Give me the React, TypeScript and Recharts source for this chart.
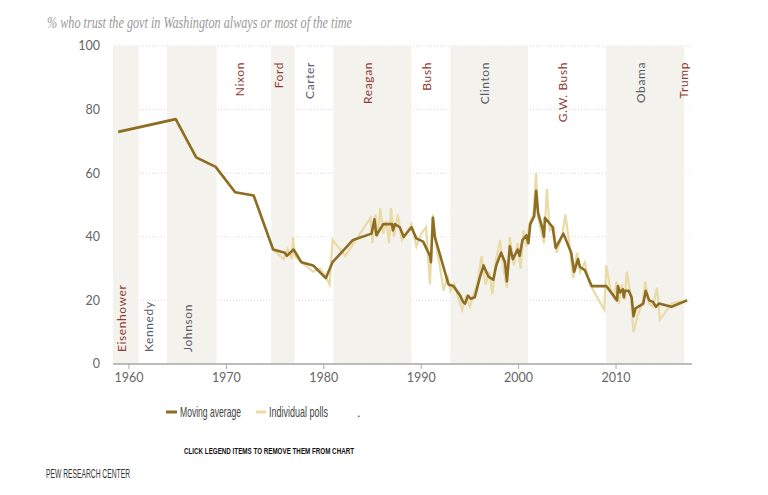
import React from 'react';
import {
  ComposedChart,
  Line,
  XAxis,
  YAxis,
  CartesianGrid,
  ReferenceArea,
} from 'recharts';

// Moving average of trust in government
const avgYears = [
  1958.9, 1964.8, 1966.9, 1968.9, 1970.9, 1972.8, 1974.8, 1976.0, 1976.2, 1976.9,
  1977.7, 1978.9, 1980.2, 1980.9, 1983.0, 1984.9, 1985.2, 1985.4, 1986.1, 1987.0,
  1987.1, 1987.3, 1987.8, 1988.2, 1989.0, 1989.5, 1990.2, 1990.9, 1991.0, 1991.2,
  1991.4, 1992.8, 1993.3, 1994.0, 1994.3, 1994.5, 1994.8, 1995.1, 1995.5, 1996.0,
  1996.4, 1996.9, 1997.4, 1997.7, 1998.2, 1998.6, 1998.8, 1999.1, 1999.4, 1999.9,
  2000.1, 2000.4, 2000.8, 2001.0, 2001.2, 2001.6, 2001.8, 2002.0, 2002.5, 2002.6,
  2002.7, 2003.5, 2003.8, 2004.6, 2005.4, 2005.7, 2006.1, 2006.3, 2006.8, 2007.5,
  2009.0, 2010.1, 2010.2, 2010.4, 2010.7, 2010.8, 2010.9, 2011.3, 2011.6, 2011.8,
  2012.0, 2012.8, 2013.05, 2013.4, 2013.8, 2014.1, 2014.4, 2015.7, 2017.3,
];
const avgValues = [
  73, 77, 65, 62, 54, 53, 36, 35, 34, 36,
  32, 31, 27, 32, 39, 41, 45.5, 40.5, 44, 44,
  42, 44, 43, 40, 43, 39.5, 38.5, 34, 32, 46,
  40, 25, 24.5, 21.5, 19.5, 19, 21.5, 20.5, 21, 27,
  31, 27.5, 26.5, 31, 35, 32, 26, 37, 33, 36,
  34, 39, 40.5, 38, 44, 46.5, 54.5, 47.5, 42, 40,
  46, 43, 36.5, 41, 35, 29, 33, 30.5, 29.5, 24.5,
  24.5, 20, 24.5, 22.5, 23.5, 21, 23, 23, 21, 15,
  17.5, 19, 23, 20, 19.5, 18, 19, 18, 20,
];

// Individual polls
const pollYears = [
  1958.9, 1964.8, 1966.9, 1968.9, 1970.9, 1972.8, 1974.8, 1975.9, 1976.3, 1976.7,
  1976.85, 1977.0, 1977.7, 1978.9, 1979.6, 1980.1, 1980.6, 1980.9, 1982.2, 1983.5,
  1984.8, 1985.0, 1985.3, 1985.5, 1985.8, 1986.1, 1986.4, 1986.7, 1986.9, 1987.2,
  1987.6, 1988.0, 1988.5, 1989.0, 1989.5, 1990.0, 1990.5, 1990.9, 1991.2, 1991.5,
  1991.9, 1992.3, 1992.7, 1993.0, 1993.4, 1993.8, 1994.2, 1994.6, 1995.0, 1995.4,
  1995.8, 1996.2, 1996.6, 1997.0, 1997.3, 1997.7, 1998.1, 1998.5, 1998.8, 1999.1,
  1999.5, 1999.9, 2000.2, 2000.5, 2000.8, 2001.1, 2001.5, 2001.8, 2002.0, 2002.3,
  2002.6, 2002.9, 2003.2, 2003.6, 2003.9, 2004.5, 2004.8, 2005.2, 2005.6, 2006.0,
  2006.3, 2006.8, 2007.2, 2007.7, 2008.8, 2009.0, 2009.4, 2009.8, 2010.05, 2010.3,
  2010.6, 2010.9, 2011.1, 2011.5, 2011.8, 2012.2, 2012.7, 2013.0, 2013.4, 2013.8,
  2014.2, 2014.5, 2015.0, 2015.7, 2017.3,
];
const pollValues = [
  73, 77, 65, 62, 54, 53, 36, 33, 36, 33,
  40, 34, 32, 29, 30, 28, 25, 39, 34, 40,
  46, 38, 47, 40, 49, 41, 45, 38, 49, 40,
  47, 39, 41, 44, 37, 41, 43, 25, 47, 38,
  31, 23, 28, 23, 25, 21, 17, 21, 18, 22,
  26, 34, 25, 29, 22, 33, 39, 29, 24, 40,
  31, 38, 30, 42, 37, 44, 47, 60, 46, 42,
  38, 55, 42, 43, 35, 41, 47, 38, 27, 35,
  29, 32, 26, 23, 17, 31, 24, 21, 26, 19,
  25, 20, 29, 22, 10, 15, 19, 26, 19, 18,
  24, 14, 16, 19, 20,
];

// Presidencies: shaded bands alternate
const presNames = [
  'Eisenhower', 'Kennedy', 'Johnson', 'Nixon', 'Ford', 'Carter',
  'Reagan', 'Bush', 'Clinton', 'G.W. Bush', 'Obama', 'Trump',
];
const presStart = [1953, 1961, 1963.9, 1969, 1974.6, 1977, 1981, 1989, 1993, 2001, 2009, 2017];
const presEnd = [1961, 1963.9, 1969, 1974.6, 1977, 1981, 1989, 1993, 2001, 2009, 2017, 2021];
const presParty = ['R', 'D', 'D', 'R', 'R', 'D', 'R', 'R', 'D', 'R', 'D', 'R'];

const yTicks = [0, 20, 40, 60, 80, 100];
const xTicks = [1960, 1970, 1980, 1990, 2000, 2010];

const X_MIN = 1958.36;
const X_MAX = 2017.8;
const LOW_LABELS_BEFORE = 1969;

const AVG_COLOR = '#8d6d24';
const POLL_COLOR = '#e9daa6';
const BAND_COLOR = '#f4f2ed';
const REP_COLOR = '#8e3b33';
const DEM_COLOR = '#56606a';
const FONT = 'Lato, "Open Sans", sans-serif';
const NARROW = '"Liberation Sans", sans-serif';
const SQUEEZE = 0.63;

const avgData = avgYears.map((year, i) => ({ year, value: avgValues[i] }));
const pollData = pollYears.map((year, i) => ({ year, value: pollValues[i] }));

function PresidentLabel({ viewBox, name, color, low }: any) {
  if (!viewBox) return null;
  const cx = viewBox.x + viewBox.width / 2;
  const y = low ? 352 : 62;
  return (
    <text
      transform={`translate(${cx}, ${y}) rotate(-90)`}
      textAnchor={low ? 'start' : 'end'}
      fill={color}
      fontSize={12}
      fontFamily={FONT}
      letterSpacing={0.6}
    >
      {name}
    </text>
  );
}

// condensed text: squeezed horizontally so its box matches the narrow face
function NarrowText({ x, y, width, size, children, fill = '#444', weight }: any) {
  return (
    <text
      transform={`translate(${x}, ${y}) scale(${SQUEEZE}, 1)`}
      fill={fill}
      fontSize={size}
      fontWeight={weight}
      fontFamily={NARROW}
      textLength={width / SQUEEZE}
      lengthAdjust="spacingAndGlyphs"
    >
      {children}
    </text>
  );
}

export default function App() {
  return (
    <div style={{ position: 'absolute', left: 0, top: 0, width: 768, height: 495, background: '#fff' }}>
      <ComposedChart
        width={768}
        height={495}
        margin={{ top: 46, right: 76, bottom: 101, left: 73 }}
      >
        {presNames.map((name, i) => {
          const x1 = Math.max(presStart[i], X_MIN);
          const x2 = Math.min(presEnd[i], X_MAX);
          return (
            <ReferenceArea
              key={name}
              x1={x1}
              x2={x2}
              y1={0}
              y2={100}
              fill={i % 2 === 0 ? BAND_COLOR : '#ffffff'}
              fillOpacity={i % 2 === 0 ? 1 : 0}
              stroke="none"
              label={
                <PresidentLabel
                  name={name}
                  color={presParty[i] === 'R' ? REP_COLOR : DEM_COLOR}
                  low={presStart[i] < LOW_LABELS_BEFORE}
                />
              }
            />
          );
        })}
        <CartesianGrid vertical={false} stroke="#d6d6d6" strokeDasharray="1 2" />
        <XAxis
          type="number"
          dataKey="year"
          domain={[X_MIN, X_MAX]}
          ticks={xTicks}
          allowDataOverflow
          tick={{ fill: '#666', fontSize: 12.5, fontFamily: FONT }}
          tickSize={5}
          tickMargin={4}
          stroke="#a9a9a9"
          axisLine={{ stroke: '#a9a9a9', strokeWidth: 1.5 }}
          tickLine={{ stroke: '#a9a9a9' }}
        />
        <YAxis
          type="number"
          domain={[0, 100]}
          ticks={yTicks}
          width={40}
          axisLine={false}
          tickLine={false}
          tickMargin={7}
          tick={{ fill: '#666', fontSize: 12.5, fontFamily: FONT }}
        />
        <Line
          data={pollData}
          dataKey="value"
          type="linear"
          stroke={POLL_COLOR}
          strokeWidth={2.2}
          dot={false}
          isAnimationActive={false}
        />
        <Line
          data={avgData}
          dataKey="value"
          type="linear"
          stroke={AVG_COLOR}
          strokeWidth={2.6}
          strokeLinejoin="round"
          dot={false}
          isAnimationActive={false}
        />
      </ComposedChart>

      <svg
        width={768}
        height={495}
        style={{ position: 'absolute', left: 0, top: 0, pointerEvents: 'none' }}
      >
        <text
          x={47}
          y={28}
          fill="#999"
          fontSize={17}
          fontStyle="italic"
          fontFamily='"Liberation Serif", "DejaVu Serif", serif'
          textLength={305}
          lengthAdjust="spacingAndGlyphs"
        >
          % who trust the govt in Washington always or most of the time
        </text>

        {/* legend */}
        <line x1={166} x2={177} y1={412} y2={412} stroke={AVG_COLOR} strokeWidth={3} />
        <NarrowText x={180} y={417} width={61} size={14}>Moving average</NarrowText>
        <line x1={256} x2={266} y1={412} y2={412} stroke={POLL_COLOR} strokeWidth={3} />
        <NarrowText x={269} y={417} width={59} size={14}>Individual polls</NarrowText>
        <text x={357} y={417} fill="#444" fontSize={13} fontFamily={NARROW}>.</text>

        <NarrowText x={184} y={454} width={170} size={9.5} fill="#111" weight="bold">
          CLICK LEGEND ITEMS TO REMOVE THEM FROM CHART
        </NarrowText>
        <NarrowText x={46} y={477.5} width={84} size={12.5} fill="#333">
          PEW RESEARCH CENTER
        </NarrowText>
      </svg>
    </div>
  );
}
